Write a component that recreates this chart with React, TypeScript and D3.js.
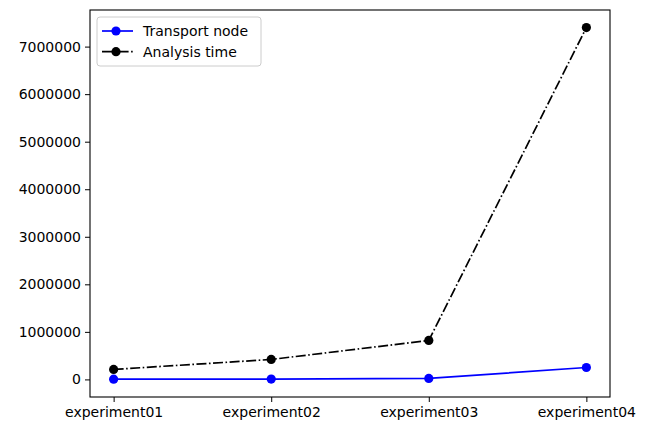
import React, { useEffect, useRef } from "react";
import * as d3 from "d3";

const categories = ["experiment01", "experiment02", "experiment03", "experiment04"];
const transportNode = [5000, 8000, 20000, 250000];
const analysisTime = [210000, 420000, 820000, 7400000];
const yTicks = [0, 1000000, 2000000, 3000000, 4000000, 5000000, 6000000, 7000000];

const W = 648;
const H = 422;
const margin = { left: 90, right: 38, top: 10, bottom: 25 };

export default function App() {
    const ref = useRef<SVGSVGElement>(null);

    useEffect(() => {
        const svg = d3.select(ref.current);
        svg.selectAll("*").remove();

        const x = d3
            .scalePoint()
            .domain(categories)
            .range([margin.left, W - margin.right])
            .padding(0.15);

        const yMax = d3.max(analysisTime) as number;
        const pad = yMax * 0.05;
        const y = d3
            .scaleLinear()
            .domain([-pad, yMax + pad])
            .range([H - margin.bottom, margin.top]);

        const g = svg.append("g").attr("font-family", "DejaVu Sans").attr("font-size", 14);

        // y axis
        const yAxis = g
            .append("g")
            .attr("transform", `translate(${margin.left},0)`)
            .call(d3.axisLeft(y).tickValues(yTicks).tickSize(5).tickPadding(4).tickFormat(d3.format("d")));
        yAxis.select(".domain").remove();
        yAxis.selectAll("text").attr("font-family", "DejaVu Sans").attr("font-size", 14).attr("fill", "#000");
        yAxis.selectAll("line").attr("stroke", "#000");

        // x axis
        const xAxis = g
            .append("g")
            .attr("transform", `translate(0,${H - margin.bottom})`)
            .call(d3.axisBottom(x).tickSize(5).tickPadding(5));
        xAxis.select(".domain").remove();
        xAxis.selectAll("text").attr("font-family", "DejaVu Sans").attr("font-size", 14).attr("fill", "#000");
        xAxis.selectAll("line").attr("stroke", "#000");

        // frame
        g.append("rect")
            .attr("x", margin.left)
            .attr("y", margin.top)
            .attr("width", W - margin.left - margin.right)
            .attr("height", H - margin.top - margin.bottom)
            .attr("fill", "none")
            .attr("stroke", "#000")
            .attr("stroke-width", 1.1);

        const line = d3
            .line<number>()
            .x((d, i) => x(categories[i]) as number)
            .y((d) => y(d));

        const series = [
            { name: "Transport node", values: transportNode, color: "#0000ff", dash: null },
            { name: "Analysis time", values: analysisTime, color: "#000000", dash: "10,2.5,1.6,2.5" },
        ];

        series.forEach((s) => {
            g.append("path")
                .datum(s.values)
                .attr("fill", "none")
                .attr("stroke", s.color)
                .attr("stroke-width", 1.7)
                .attr("stroke-dasharray", s.dash)
                .attr("d", line);
            g.append("g")
                .selectAll("circle")
                .data(s.values)
                .join("circle")
                .attr("cx", (d, i) => x(categories[i]) as number)
                .attr("cy", (d) => y(d))
                .attr("r", 4.6)
                .attr("fill", s.color);
        });

        // legend
        const lg = g.append("g").attr("transform", `translate(${margin.left + 7},${margin.top + 7})`);
        lg.append("rect")
            .attr("width", 164)
            .attr("height", 49)
            .attr("rx", 3)
            .attr("fill", "#fff")
            .attr("stroke", "#ccc")
            .attr("stroke-width", 1);
        series.forEach((s, i) => {
            const yy = 14 + i * 20.7;
            lg.append("line")
                .attr("x1", 5)
                .attr("x2", 36)
                .attr("y1", yy)
                .attr("y2", yy)
                .attr("stroke", s.color)
                .attr("stroke-width", 1.7)
                .attr("stroke-dasharray", s.dash);
            lg.append("circle").attr("cx", 19).attr("cy", yy).attr("r", 4.6).attr("fill", s.color);
            lg.append("text")
                .attr("x", 46)
                .attr("y", yy)
                .attr("dy", "0.36em")
                .attr("fill", "#000")
                .text(s.name);
        });
    }, []);

    return (
        <div style={{ position: "absolute", left: 0, top: 0 }}>
            <svg ref={ref} width={W} height={H} style={{ display: "block", background: "#fff" }}></svg>
        </div>
    );
}
